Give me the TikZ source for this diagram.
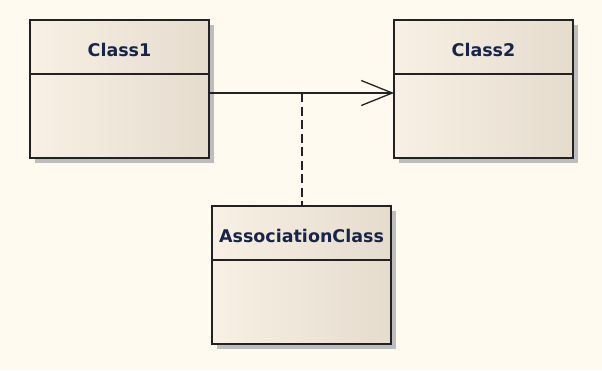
\documentclass[tikz,border=0pt]{standalone}
\usepackage{fontspec}
\newfontfamily\umlfont{DejaVu Sans}
\usetikzlibrary{arrows.meta}
\definecolor{bg}{HTML}{FEFAF0}
\definecolor{boxl}{HTML}{F8F0E4}
\definecolor{boxr}{HTML}{E5DCCE}
\definecolor{shadowc}{HTML}{BDBDBD}
\definecolor{txt}{HTML}{18244A}
\definecolor{edge}{HTML}{222222}
\tikzset{
  classbox/.style={draw=edge, line width=1.6pt, left color=boxl, right color=boxr, shading angle=90,
    minimum width=179pt, minimum height=138pt, inner sep=0pt, outer sep=0pt},
  boxshadow/.style={fill=shadowc, draw=none, minimum width=179pt, minimum height=138pt, inner sep=0pt},
  divider/.style={draw=edge, line width=1.6pt},
  classname/.style={font=\umlfont\bfseries\fontsize{17.5}{20}\selectfont, text=txt, inner sep=0pt},
  conn/.style={draw=edge, line width=1.3pt},
  assocdash/.style={draw=edge, line width=1.3pt, dash pattern=on 9pt off 4.5pt},
}
\begin{document}
\begin{tikzpicture}[x=1pt,y=-1pt]
\useasboundingbox (0,0) rectangle (602,370);
\fill[bg] (0,0) rectangle (602,370);
% shadows
\node[boxshadow] (s1) at (124.5,94) {};
\node[boxshadow] (s2) at (488.5,94) {};
\node[boxshadow] (s3) at (306.5,280) {};
% boxes
\node[classbox] (b1) at (119.5,89) {};
\node[classbox] (b2) at (483.5,89) {};
\node[classbox] (b3) at (301.5,275) {};
\draw[divider] ([yshift=-54pt]b1.north west) -- ([yshift=-54pt]b1.north east);
\draw[divider] ([yshift=-54pt]b2.north west) -- ([yshift=-54pt]b2.north east);
\draw[divider] ([yshift=-54pt]b3.north west) -- ([yshift=-54pt]b3.north east);
% names
\node[classname] (c1) at (119.5,50) {Class1};
\node[classname] (c2) at (483.5,50) {Class2};
\node[classname] (ac) at (301.5,236) {AssociationClass};
% connector points
\coordinate (c1e) at ([yshift=-73pt]b1.north east);
\coordinate (c2w) at ([yshift=-73pt]b2.north west);
\coordinate (mid) at (302,93);
\draw[conn, -{Straight Barb[length=31pt, width=25pt, line width=1.3pt]}] (c1e) -- (c2w);
\draw[assocdash] (mid) -- (b3.north -| mid);
\end{tikzpicture}
\end{document}
